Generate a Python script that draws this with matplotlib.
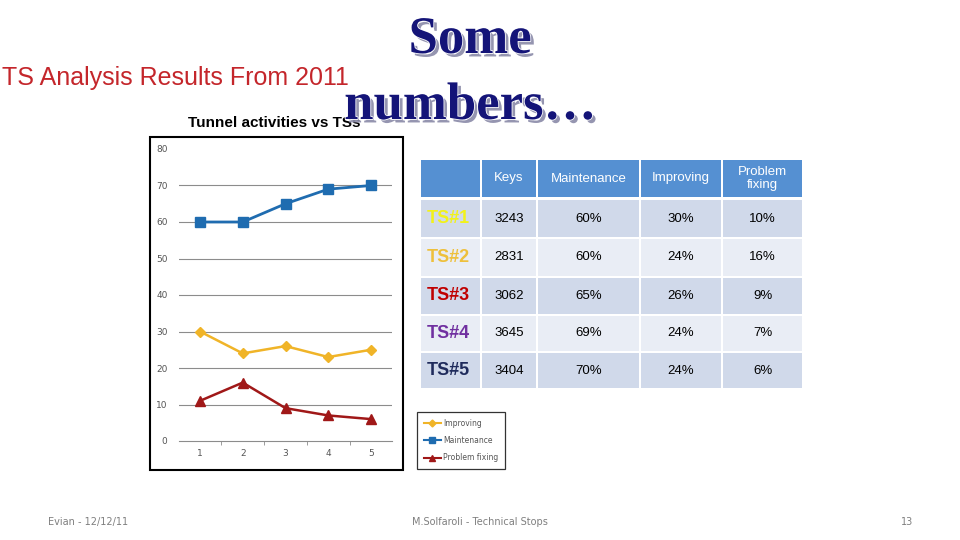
import matplotlib.pyplot as plt
import matplotlib.patheffects as pe
from matplotlib.patches import Rectangle
from matplotlib.lines import Line2D

# chart data
ts_index = [1, 2, 3, 4, 5]
maintenance = [60, 60, 65, 69, 70]
improving = [30, 24, 26, 23, 25]
problem_fixing = [11, 16, 9, 7, 6]
y_ticks = [0, 10, 20, 30, 40, 50, 60, 70, 80]

# table data
table_header = ['', 'Keys', 'Maintenance', 'Improving', 'Problem\nfixing']
ts_labels = ['TS#1', 'TS#2', 'TS#3', 'TS#4', 'TS#5']
ts_colors = ['#F2F21A', '#EEC03C', '#C00000', '#7030A0', '#1F2B5C']
keys = [3243, 2831, 3062, 3645, 3404]
maint_pct = [60, 60, 65, 69, 70]
impr_pct = [30, 24, 26, 24, 24]
prob_pct = [10, 16, 9, 7, 6]

W, H = 960, 540
fig = plt.figure(figsize=(9.6, 5.4), dpi=100)
fig.patch.set_facecolor('white')

# background axes in pixel coordinates for the slide decoration
bg = fig.add_axes([0, 0, 1, 1])
bg.set_xlim(0, W)
bg.set_ylim(H, 0)
bg.axis('off')

# titles
bg.text(2, 78, 'TS Analysis Results From 2011', color='#C4262B', fontsize=18,
        family='Liberation Sans', va='center', ha='left')
bg.text(188, 123, 'Tunnel activities vs TSs', fontsize=11, fontweight='bold',
        family='Liberation Sans', va='center', ha='left', zorder=2)
shadow = [pe.SimplePatchShadow(offset=(2.5, -2.5), shadow_rgbFace='#8a8aa8', alpha=0.9),
          pe.withStroke(linewidth=1.2, foreground='white')]
for txt, y in [('Some', 40), ('numbers…', 106)]:
    bg.text(470, y, txt, color='#141478', fontsize=38, fontweight='bold',
            family='Liberation Serif', ha='center', va='center', zorder=5,
            path_effects=shadow)

# chart frame
bg.add_patch(Rectangle((150, 137), 253, 333, fill=False, ec='black', lw=1.5, zorder=1))

# line chart
ax = fig.add_axes([178.6 / W, 1 - 441 / H, 213.8 / W, 292 / H])
ax.set_xlim(0.5, 5.5)
ax.set_ylim(0, 80)
for v in y_ticks[1:-1]:
    ax.axhline(v, color='#8c8c8c', lw=0.8, zorder=1)
ax.plot(ts_index, maintenance, color='#1F6CB0', lw=2, marker='s', ms=7, zorder=3)
ax.plot(ts_index, improving, color='#F0B428', lw=1.8, marker='D', ms=5, zorder=3)
ax.plot(ts_index, problem_fixing, color='#A01818', lw=1.8, marker='^', ms=7, zorder=3)
ax.set_yticks(y_ticks)
ax.set_xticks(ts_index)
ax.set_xticks([1.5, 2.5, 3.5, 4.5], minor=True)
for s in ['top', 'right', 'left']:
    ax.spines[s].set_visible(False)
ax.spines['bottom'].set_color('#8c8c8c')
ax.tick_params(axis='y', length=0, pad=8, labelsize=6.5, labelcolor='#555555')
ax.tick_params(axis='x', which='major', length=0, pad=6, labelsize=6.5, labelcolor='#555555')
ax.tick_params(axis='x', which='minor', length=3, color='#8c8c8c')
ax.patch.set_alpha(0)

# legend
handles = [Line2D([], [], color='#F0B428', lw=1.5, marker='D', ms=3.5),
           Line2D([], [], color='#1F6CB0', lw=1.5, marker='s', ms=4),
           Line2D([], [], color='#A01818', lw=1.5, marker='^', ms=4.5)]
leg = fig.legend(handles, ['Improving', 'Maintenance', 'Problem fixing'],
                 loc='upper left', bbox_to_anchor=(413 / W, 1 - 408 / H),
                 fontsize=5.5, frameon=True, fancybox=False, handlelength=2.2,
                 labelspacing=1.1, borderpad=0.9, handletextpad=0.3)
leg.get_frame().set_edgecolor('black')
leg.get_frame().set_linewidth(0.9)
for t in leg.get_texts():
    t.set_color('#555555')

# table
col_edges = [420, 481, 537, 640, 722, 803]
row_edges = [160, 199, 238, 277, 315, 352, 389]
row_fill = ['#D0D9EA', '#E9EDF5']
rows = []
for i in range(len(ts_labels)):
    rows.append([ts_labels[i], str(keys[i]), f'{maint_pct[i]}%', f'{impr_pct[i]}%', f'{prob_pct[i]}%'])

for c in range(5):
    x0, x1 = col_edges[c], col_edges[c + 1]
    y0, y1 = row_edges[0], row_edges[1]
    bg.add_patch(Rectangle((x0 + 1, y0), x1 - x0 - 2, y1 - y0 - 2, fc='#5590D2', ec='none'))
    bg.text((x0 + x1) / 2, (y0 + y1) / 2 - 1, table_header[c], color='white', fontsize=9.5,
            family='Liberation Sans', ha='center', va='center', linespacing=1.15)
for r, row in enumerate(rows):
    y0, y1 = row_edges[r + 1], row_edges[r + 2]
    for c in range(5):
        x0, x1 = col_edges[c], col_edges[c + 1]
        bg.add_patch(Rectangle((x0 + 1, y0 + 1), x1 - x0 - 2, y1 - y0 - 2,
                               fc=row_fill[r % 2], ec='none'))
        if c == 0:
            bg.text(x0 + 7, (y0 + y1) / 2, row[c], color=ts_colors[r], fontsize=13,
                    fontweight='bold', family='Liberation Sans', ha='left', va='center')
        else:
            bg.text((x0 + x1) / 2, (y0 + y1) / 2, row[c], color='black', fontsize=9.5,
                    family='Liberation Sans', ha='center', va='center')

# footer
for x, txt, ha in [(48, 'Evian - 12/12/11', 'left'), (480, 'M.Solfaroli - Technical Stops', 'center'),
                   (913, '13', 'right')]:
    bg.text(x, 522, txt, color='#7f7f7f', fontsize=7, family='Liberation Sans Narrow',
            ha=ha, va='center')

fig.savefig('out.png', dpi=100)
